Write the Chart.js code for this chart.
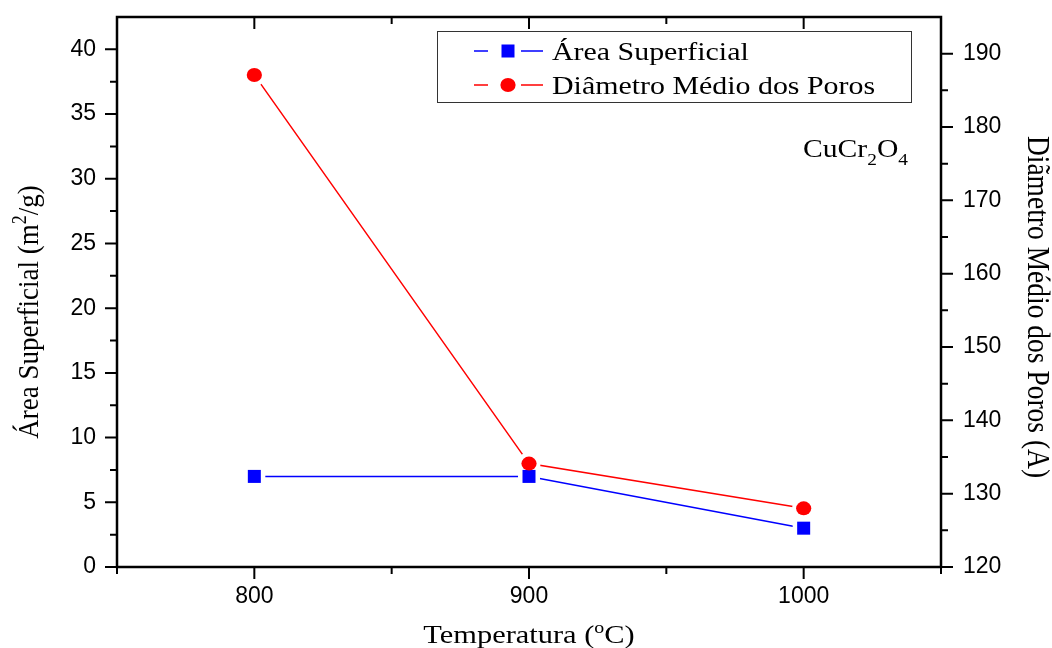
<!DOCTYPE html>
<html>
<head>
<meta charset="utf-8">
<script src="https://cdn.jsdelivr.net/npm/chart.js@4.4.1/dist/chart.umd.min.js"></script>
<style>
  html,body{margin:0;padding:0;background:#fff;}
  #wrap{width:1052px;height:648px;}
</style>
</head>
<body>
<div id="wrap"><canvas id="chart"></canvas></div>
<script>
// data
const temperatures = [800, 900, 1000];
const areaValues = [7.0, 7.0, 3.0];
const poreValues = [187.1, 134.1, 128.0];
const xTicks = [800, 900, 1000];
const leftTicks = [0, 5, 10, 15, 20, 25, 30, 35, 40];
const rightTicks = [120, 130, 140, 150, 160, 170, 180, 190];

const SERIF = '"Liberation Serif", "Times New Roman", serif';
const SANS = '"Liberation Sans", Arial, sans-serif';
const BLUE = '#0000ff', RED = '#ff0000';

// text with super/subscripts, parts: [{t, pos:'sup'|'sub'}]
// sx stretches the text sideways (the original picture is a bit wide)
function richText(ctx, parts, x, y, size, align, sx){
  sx = sx || 1;
  const small = Math.round(size*0.65);
  let w = 0;
  parts.forEach(p => {
    ctx.font = (p.pos ? small : size) + 'px ' + SERIF;
    p.w = ctx.measureText(p.t).width;
    w += p.w;
  });
  ctx.save();
  ctx.translate(x, y);
  ctx.scale(sx, 1);
  let cx = align === 'center' ? -w/2 : 0;
  ctx.textAlign = 'left';
  ctx.textBaseline = 'alphabetic';
  parts.forEach(p => {
    ctx.font = (p.pos ? small : size) + 'px ' + SERIF;
    let dy = 0;
    if (p.pos === 'sup') dy = -size*0.4;
    if (p.pos === 'sub') dy = size*0.3;
    ctx.fillText(p.t, cx, dy);
    cx += p.w;
  });
  ctx.restore();
}

function marker(ctx, style, x, y, color){
  ctx.fillStyle = color;
  if (style === 'rect') {
    ctx.fillRect(x - 6.5, y - 6.5, 13, 13);
  } else {
    ctx.beginPath();
    ctx.ellipse(x, y, 7.6, 7, 0, 0, Math.PI*2);
    ctx.fill();
  }
}

const decor = {
  id: 'decor',
  afterDatasetsDraw(chart){
    const ctx = chart.ctx;
    // solid markers on top of the white rings
    chart.data.datasets.forEach((ds, i) => {
      chart.getDatasetMeta(i).data.forEach(p => marker(ctx, ds.pointStyle, p.x, p.y, ds.borderColor));
    });
  },
  afterDraw(chart){
    const ctx = chart.ctx;
    const a = chart.chartArea;
    const x = chart.scales.x, y = chart.scales.y, y1 = chart.scales.y1;
    ctx.save();
    ctx.strokeStyle = '#000';
    ctx.lineWidth = 2.5;
    ctx.strokeRect(a.left, a.top, a.right - a.left, a.bottom - a.top);

    ctx.lineWidth = 2;
    ctx.beginPath();
    // x ticks: bottom outward, top inward
    for (let v = x.min; v <= x.max; v += 50) {
      const px = x.getPixelForValue(v);
      const len = v % 100 === 0 ? 12 : 7;
      ctx.moveTo(px, a.bottom); ctx.lineTo(px, a.bottom + len);
      ctx.moveTo(px, a.top); ctx.lineTo(px, a.top + len);
    }
    // left ticks outward
    for (let v = 0; v <= 40; v += 2.5) {
      const py = y.getPixelForValue(v);
      const len = v % 5 === 0 ? 12 : 7;
      ctx.moveTo(a.left, py); ctx.lineTo(a.left - len, py);
    }
    // right ticks outward
    for (let v = 120; v <= 190; v += 5) {
      const py = y1.getPixelForValue(v);
      const len = v % 10 === 0 ? 12 : 7;
      ctx.moveTo(a.right, py); ctx.lineTo(a.right + len, py);
    }
    ctx.stroke();

    // axis titles
    ctx.fillStyle = '#000';
    richText(ctx, [{t:'Temperatura ('},{t:'o',pos:'sup'},{t:'C)'}], (a.left + a.right)/2, 643, 26, 'center', 1.17);

    ctx.save();
    ctx.translate(38, 312);
    ctx.rotate(-Math.PI/2);
    ctx.scale(1, 1.12);
    richText(ctx, [{t:'Área Superficial (m'},{t:'2',pos:'sup'},{t:'/g)'}], 0, 0, 27, 'center');
    ctx.restore();

    ctx.save();
    ctx.translate(1028, 307);
    ctx.rotate(Math.PI/2);
    ctx.scale(1, 1.12);
    richText(ctx, [{t:'Diãmetro Médio dos Poros (A)'}], 0, 0, 27.5, 'center');
    ctx.restore();

    // compound label
    richText(ctx, [{t:'CuCr'},{t:'2',pos:'sub'},{t:'O'},{t:'4',pos:'sub'}], 803, 157, 26, 'left', 1.14);

    // legend
    ctx.strokeStyle = '#333';
    ctx.lineWidth = 1;
    ctx.strokeRect(437.5, 31.5, 474, 71);
    const rows = [
      {ds: chart.data.datasets[0], y: 51},
      {ds: chart.data.datasets[1], y: 85}
    ];
    rows.forEach(r => {
      ctx.strokeStyle = r.ds.borderColor;
      ctx.lineWidth = 1.5;
      ctx.beginPath();
      ctx.moveTo(474, r.y); ctx.lineTo(488, r.y);
      ctx.moveTo(521, r.y); ctx.lineTo(543, r.y);
      ctx.stroke();
      marker(ctx, r.ds.pointStyle, 508, r.y, r.ds.borderColor);
      ctx.fillStyle = '#000';
      richText(ctx, [{t:r.ds.label}], 552, r.y + 9, 26, 'left', 1.15);
    });
    ctx.restore();
  }
};

const tickFont = { family: SANS, size: 23 };

new Chart(document.getElementById('chart'), {
  type: 'line',
  data: {
    labels: temperatures,
    datasets: [
      {
        label: 'Área Superficial',
        data: temperatures.map((t, i) => ({x: t, y: areaValues[i]})),
        yAxisID: 'y',
        borderColor: BLUE,
        backgroundColor: BLUE,
        borderWidth: 1.5,
        pointStyle: 'rect',
        pointRadius: 12,
        pointBorderWidth: 5,
        pointBorderColor: '#fff',
        pointBackgroundColor: '#fff',
        tension: 0
      },
      {
        label: 'Diâmetro Médio dos Poros',
        data: temperatures.map((t, i) => ({x: t, y: poreValues[i]})),
        yAxisID: 'y1',
        borderColor: RED,
        backgroundColor: RED,
        borderWidth: 1.5,
        pointStyle: 'circle',
        pointRadius: 9,
        pointBorderWidth: 5,
        pointBorderColor: '#fff',
        pointBackgroundColor: '#fff',
        tension: 0
      }
    ]
  },
  options: {
    responsive: true,
    maintainAspectRatio: false,
    animation: false,
    devicePixelRatio: 1,
    layout: { padding: { top: 15, left: 0, right: 0, bottom: 0 } },
    plugins: { legend: { display: false }, tooltip: { enabled: false } },
    scales: {
      x: {
        type: 'linear',
        min: 750, max: 1050,
        grid: { display: false, drawTicks: false, tickLength: 0 },
        border: { display: false },
        afterBuildTicks: s => { s.ticks = xTicks.map(v => ({value: v})); },
        afterFit: s => { s.height = 81; s.paddingLeft = 0; s.paddingRight = 0; },
        ticks: {
          autoSkip: false, maxRotation: 0, padding: 16,
          color: '#000', font: tickFont,
          callback: v => String(v)
        }
      },
      y: {
        position: 'left',
        min: 0, max: 42.5,
        grid: { display: false, drawTicks: false, tickLength: 0 },
        border: { display: false },
        afterBuildTicks: s => { s.ticks = leftTicks.map(v => ({value: v})); },
        afterFit: s => { s.width = 117; s.paddingTop = 0; s.paddingBottom = 0; },
        ticks: { padding: 21, color: '#000', font: tickFont, callback: v => String(v) }
      },
      y1: {
        position: 'right',
        min: 120, max: 195,
        grid: { display: false, drawTicks: false, tickLength: 0 },
        border: { display: false },
        afterBuildTicks: s => { s.ticks = rightTicks.map(v => ({value: v})); },
        afterFit: s => { s.width = 111; s.paddingTop = 0; s.paddingBottom = 0; },
        ticks: { padding: 22, color: '#000', font: tickFont, callback: v => String(v) }
      }
    }
  },
  plugins: [decor]
});
</script>
</body>
</html>
